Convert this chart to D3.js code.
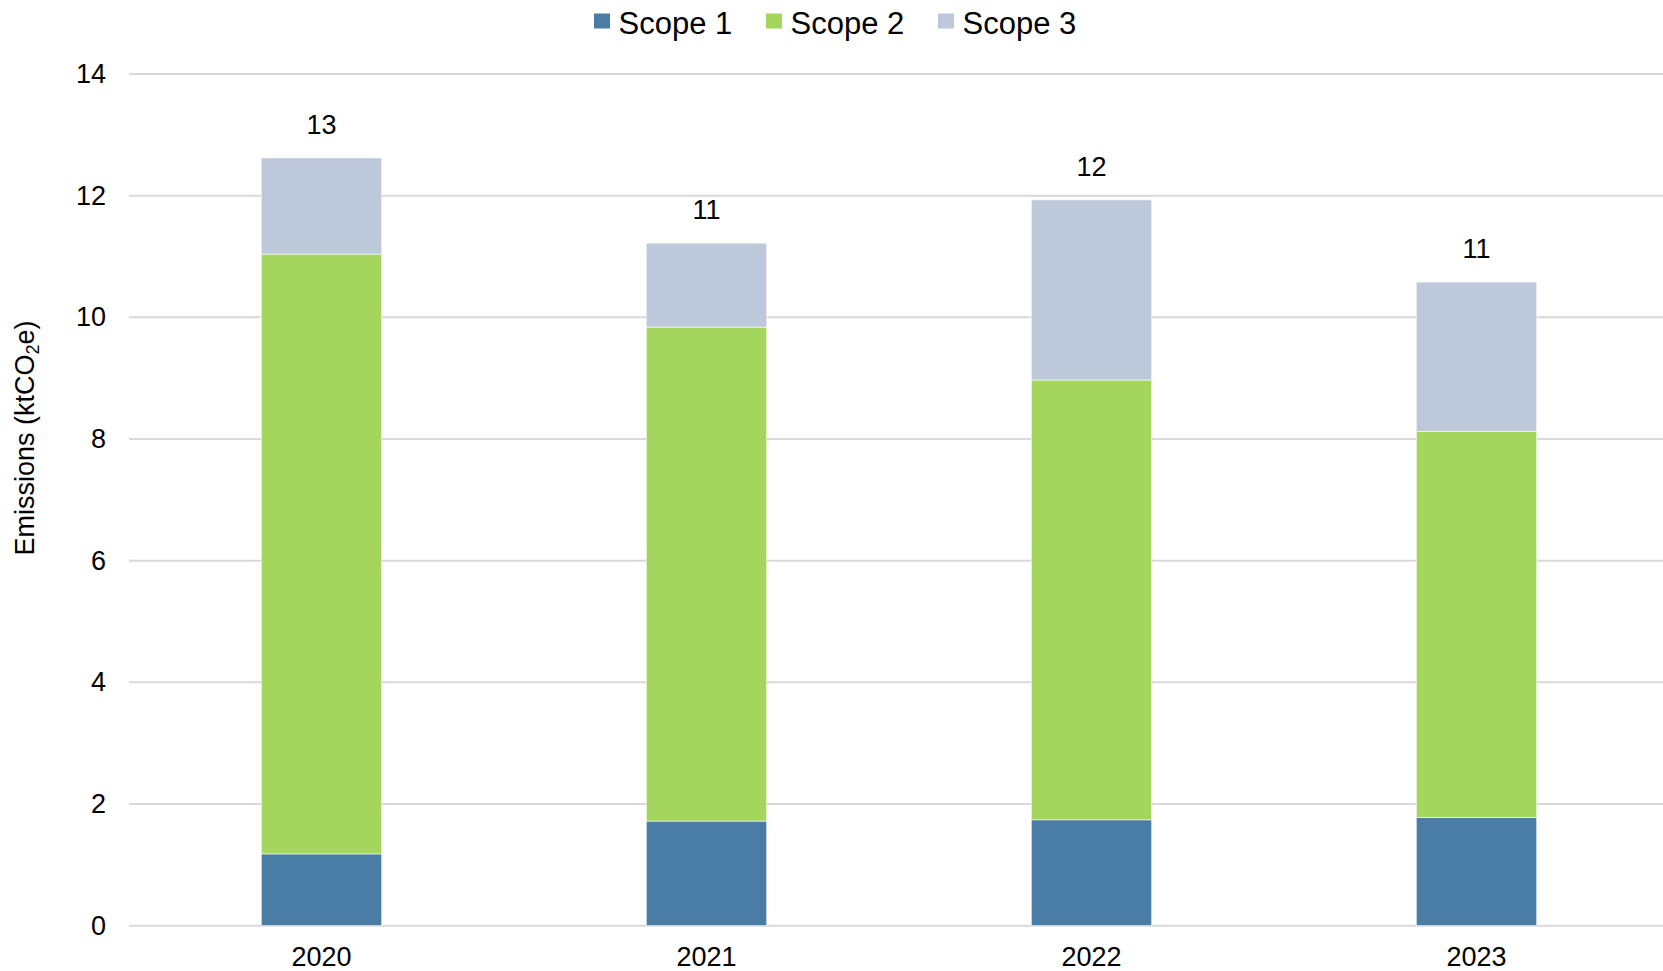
<!DOCTYPE html>
<html>
<head>
<meta charset="utf-8">
<script src="https://cdn.jsdelivr.net/npm/d3@7"></script>
<style>
  html, body { margin: 0; padding: 0; background: #fff; }
  svg { display: block; font-family: "Liberation Sans", Arial, sans-serif; }
</style>
</head>
<body>
<svg id="chart" width="1663" height="971"></svg>
<script>
const years = ["2020", "2021", "2022", "2023"];
const seriesNames = ["Scope 1", "Scope 2", "Scope 3"];
const scope1 = [1.18, 1.72, 1.74, 1.78];
const scope2 = [9.86, 8.12, 7.23, 6.34];
const scope3 = [1.58, 1.38, 2.96, 2.46];
const yTicks = [0, 2, 4, 6, 8, 10, 12, 14];
const colors = ["#4a7da6", "#a4d65e", "#bdc8db"];

const svg = d3.select("#chart");
const W = 1663, H = 971;
const margin = { left: 129, right: -6, top: 74, bottom: 45.3 };

const x = d3.scaleBand()
  .domain(years)
  .range([margin.left, W - margin.right])
  .paddingInner(0.687)
  .paddingOuter(0.3435);

const y = d3.scaleLinear()
  .domain([0, 14])
  .range([H - margin.bottom, margin.top]);

// gridlines
svg.append("g")
  .selectAll("line")
  .data(yTicks)
  .join("line")
  .attr("x1", margin.left)
  .attr("x2", W)
  .attr("y1", d => y(d))
  .attr("y2", d => y(d))
  .attr("stroke", "#d9d9d9")
  .attr("stroke-width", 2);

// y axis labels
const yAxis = d3.axisLeft(y).tickValues(yTicks).tickSize(0).tickPadding(23);
const yg = svg.append("g").attr("transform", `translate(${margin.left},0)`).call(yAxis);
yg.select(".domain").remove();
yg.selectAll("text").attr("font-size", 27).attr("fill", "#000")
  .attr("font-family", "'Liberation Sans', Arial, sans-serif");

// x axis labels
const xAxis = d3.axisBottom(x).tickSize(0).tickPadding(21);
const xg = svg.append("g").attr("transform", `translate(0,${y(0)})`).call(xAxis);
xg.select(".domain").remove();
xg.selectAll("text").attr("font-size", 27).attr("fill", "#000")
  .attr("font-family", "'Liberation Sans', Arial, sans-serif");

// stacked data
const table = years.map((yr, i) => ({ year: yr, "Scope 1": scope1[i], "Scope 2": scope2[i], "Scope 3": scope3[i] }));
const stack = d3.stack().keys(seriesNames)(table);

svg.append("g")
  .selectAll("g")
  .data(stack)
  .join("g")
  .attr("fill", (d, i) => colors[i])
  .selectAll("rect")
  .data(d => d)
  .join("rect")
  .attr("x", d => x(d.data.year))
  .attr("width", x.bandwidth())
  .attr("y", d => y(d[1]))
  .attr("height", d => y(d[0]) - y(d[1]))
  .attr("stroke", "#ffffff")
  .attr("stroke-width", 0.6);

// total labels
svg.append("g")
  .selectAll("text")
  .data(table)
  .join("text")
  .attr("x", d => x(d.year) + x.bandwidth() / 2)
  .attr("y", d => y(d["Scope 1"] + d["Scope 2"] + d["Scope 3"]) - 24)
  .attr("text-anchor", "middle")
  .attr("font-size", 27)
  .attr("fill", "#000")
  .text(d => Math.round(d["Scope 1"] + d["Scope 2"] + d["Scope 3"]));

// y axis title
const yTitle = svg.append("text")
  .attr("transform", `translate(34,438) rotate(-90)`)
  .attr("text-anchor", "middle")
  .attr("font-size", 27)
  .attr("fill", "#000");
yTitle.append("tspan").text("Emissions (ktCO");
yTitle.append("tspan").attr("font-size", 18).attr("dy", 5).text("2");
yTitle.append("tspan").attr("dy", -5).text("e)");

// legend
const legendX = [594, 766, 938];
const lg = svg.append("g")
  .selectAll("g")
  .data(seriesNames)
  .join("g")
  .attr("transform", (d, i) => `translate(${legendX[i]},0)`);
lg.append("rect")
  .attr("x", 0).attr("y", 13.5).attr("width", 16).attr("height", 15)
  .attr("fill", (d, i) => colors[i]);
lg.append("text")
  .attr("x", 24.5).attr("y", 33.5)
  .attr("font-size", 31)
  .attr("fill", "#000")
  .text(d => d);
</script>
</body>
</html>
